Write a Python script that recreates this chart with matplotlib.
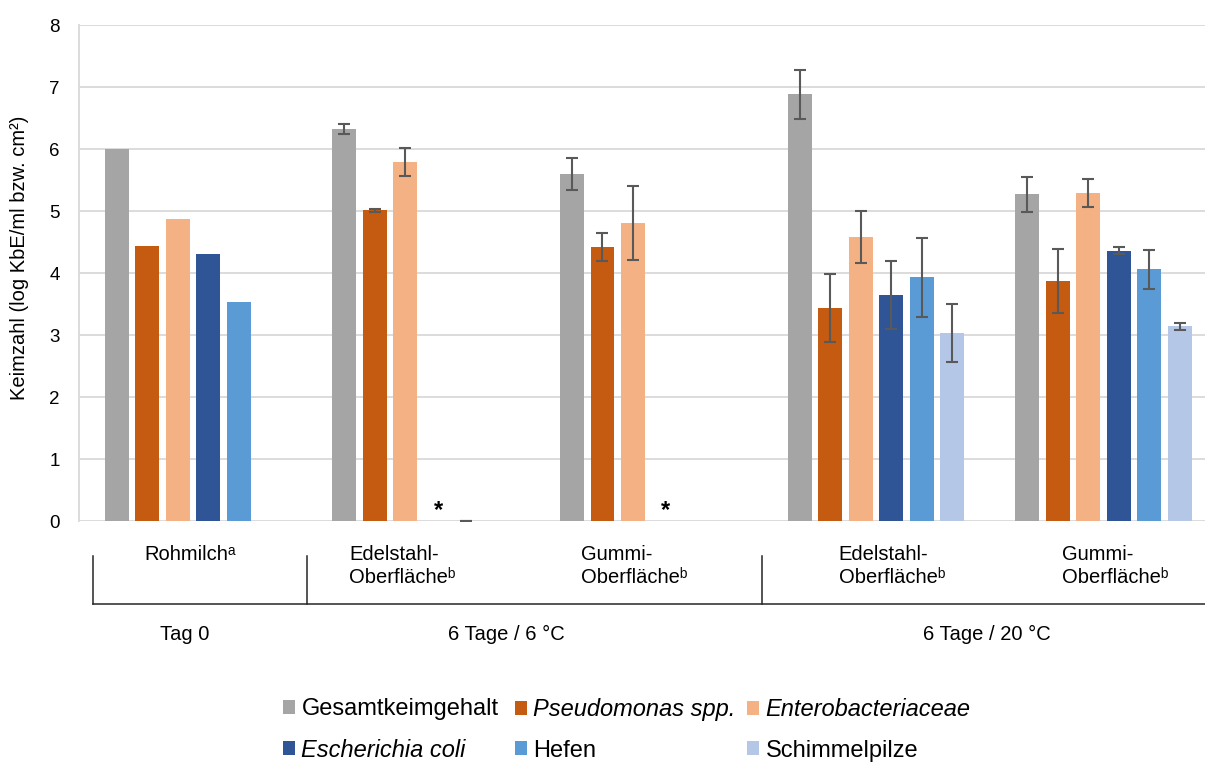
# Keimzahlen Rohmilch / Oberflaechen - gruppiertes Balkendiagramm
import numpy as np
import matplotlib
matplotlib.use("Agg")
import matplotlib.pyplot as plt
from matplotlib.patches import Patch

plt.rcParams['font.family'] = ['Liberation Sans', 'DejaVu Sans']

nan = np.nan

# Categories (level 1 and level 2 of the x axis)
categories = ["Rohmilchᵃ",
              "Edelstahl-\nOberflächeᵇ",
              "Gummi-\nOberflächeᵇ",
              "Edelstahl-\nOberflächeᵇ",
              "Gummi-\nOberflächeᵇ"]
groups = ["Tag 0", "6 Tage / 6 °C", "6 Tage / 20 °C"]

# Series (log KbE/ml bzw. cm²) and standard deviations
gesamt = [6.00, 6.33, 5.60, 6.88, 5.27]
gesamt_err = [nan, 0.08, 0.26, 0.40, 0.28]
pseudo = [4.44, 5.01, 4.42, 3.44, 3.87]
pseudo_err = [nan, 0.03, 0.22, 0.55, 0.52]
entero = [4.87, 5.79, 4.81, 4.58, 5.29]
entero_err = [nan, 0.23, 0.60, 0.42, 0.22]
ecoli = [4.31, nan, nan, 3.64, 4.36]
ecoli_err = [nan, nan, nan, 0.55, 0.06]
hefen = [3.53, 0.0, nan, 3.93, 4.06]
hefen_err = [nan, 0.0, nan, 0.64, 0.31]
schimmel = [nan, nan, nan, 3.03, 3.14]
schimmel_err = [nan, nan, nan, 0.47, 0.06]

# E. coli below detection limit (*)
ecoli_nd = [False, True, True, False, False]

names = ["Gesamtkeimgehalt", "Pseudomonas spp.", "Enterobacteriaceae",
         "Escherichia coli", "Hefen", "Schimmelpilze"]
italic = [False, True, True, True, False, False]
colors = ["#A5A5A5", "#C55A11", "#F4B183", "#2F5597", "#5B9BD5", "#B4C7E7"]

values = [gesamt, pseudo, entero, ecoli, hefen, schimmel]
errors = [gesamt_err, pseudo_err, entero_err, ecoli_err, hefen_err, schimmel_err]

W, H = 1205, 763
fig = plt.figure(figsize=(W / 100, H / 100), dpi=100)
ax = fig.add_axes([79 / W, 242 / H, 1138.5 / W, 496 / H])

x = np.arange(len(categories))
pitch = 0.134
width = 0.105

for i in range(len(values)):
    xi = x + (i - 2.5) * pitch
    ax.bar(xi, values[i], width, color=colors[i], zorder=2)
    ax.errorbar(xi, values[i], yerr=errors[i], fmt='none', ecolor='#595959',
                elinewidth=1.5, capsize=4, capthick=1.5, zorder=3)

# asterisks for E. coli not detected
for j in range(len(categories)):
    if ecoli_nd[j]:
        ax.text(x[j] + 0.5 * pitch + 0.01, 0.07, "*", ha='center', va='baseline',
                fontsize=17, fontweight='bold')

ax.set_xlim(-0.5, 4.5)
ax.set_ylim(0, 8)
ax.set_yticks(range(0, 9))
ax.set_xticks([])
ax.yaxis.grid(True, color='#D9D9D9', linewidth=1.3)
ax.set_axisbelow(True)
for s in ['top', 'right', 'bottom']:
    ax.spines[s].set_visible(False)
ax.spines['left'].set_color('#D9D9D9')
ax.spines['left'].set_linewidth(1.3)
ax.tick_params(axis='y', length=0, pad=14, labelsize=13.5, labelcolor='black')

fig.text(20 / W, 1 - 258 / H, "Keimzahl (log KbE/ml bzw. cm²)", rotation=90,
         ha='center', va='center', fontsize=14.5)

# multi level category axis
tr = ax.get_xaxis_transform()
def ypix(py):
    return (521 - py) / 496

lvl1_x = [-0.01, 0.92, 1.94, 3.07, 4.05]
for j, lab in enumerate(categories):
    ax.text(lvl1_x[j], ypix(545), lab, transform=tr, ha='center', va='top',
            multialignment='left', fontsize=14.5, linespacing=1.25)

lvl2_x = [-0.037, 1.376, 3.486]
for k, lab in enumerate(groups):
    ax.text(lvl2_x[k], ypix(640.5), lab, transform=tr, ha='center',
            va='baseline', fontsize=14.5)

line_kw = dict(transform=tr, color='#262626', linewidth=1.1, clip_on=False)
ax.plot([-0.44, 4.5], [ypix(604), ypix(604)], **line_kw)
for bx in [-0.44, 0.5, 2.5]:
    ax.plot([bx, bx], [ypix(556), ypix(604)], **line_kw)

# legend: 3 columns of 2 rows each
handles = [Patch(facecolor=c) for c in colors]
leg_x = [283, 515, 747]
for k in range(3):
    idx = [k, k + 3]
    leg = fig.legend([handles[i] for i in idx], [names[i] for i in idx],
                     loc='center left', bbox_to_anchor=(leg_x[k] / W, 1 - 730 / H),
                     frameon=False, fontsize=17, handlelength=0.52,
                     handleheight=0.52, handletextpad=0.26, labelspacing=0.78,
                     borderpad=0, borderaxespad=0)
    for t, i in zip(leg.get_texts(), idx):
        if italic[i]:
            t.set_fontstyle('italic')

fig.savefig("out.png", dpi=100)
